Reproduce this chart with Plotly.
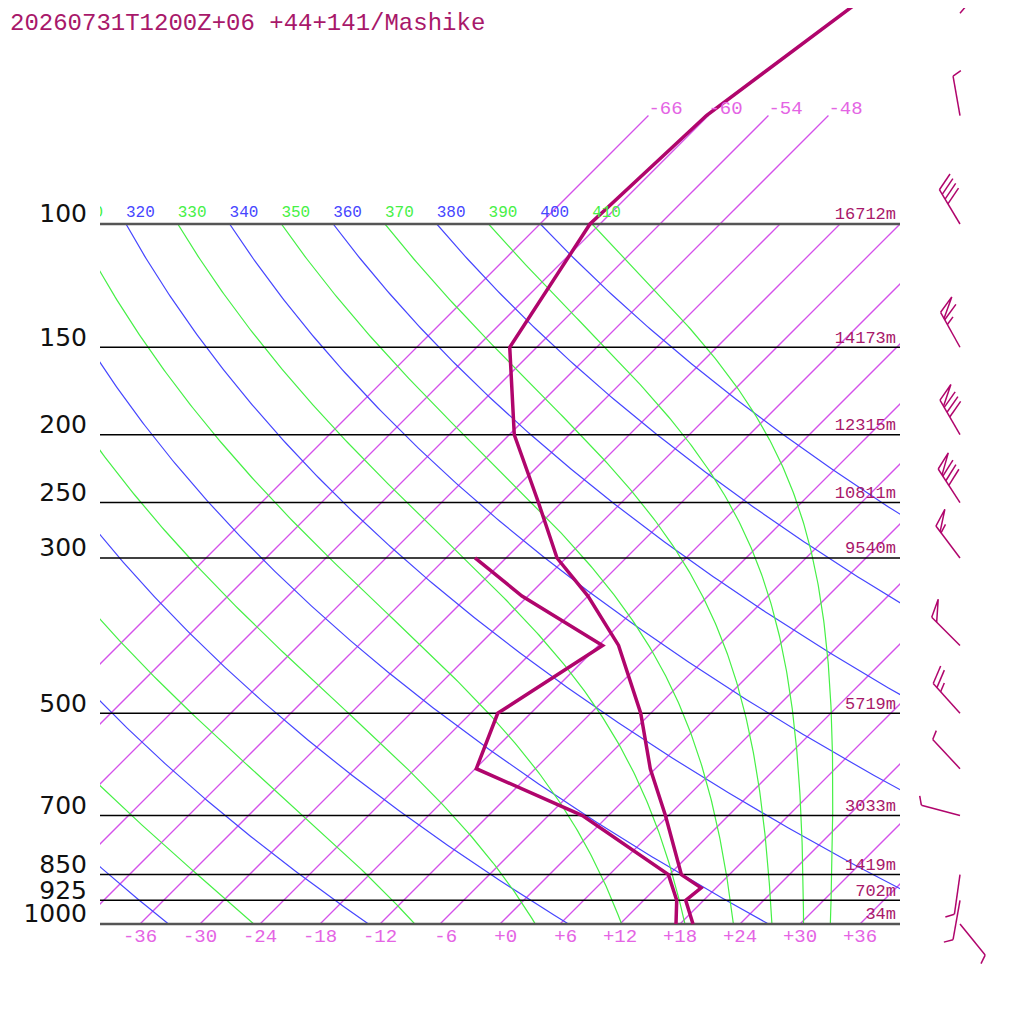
import numpy as np
import plotly.graph_objects as go

# Sounding (hPa, degC)
pres = [1000, 925, 888, 850, 700, 600, 500, 400, 340, 300, 250, 200, 150, 100, 70, 50, 30]
temp = [19.3, 16.2, 16.5, 13.2, 5.7, -0.5, -7.0, -16.0, -24.0, -30.9, -38.3, -47.5, -56.7, -61.0, -60.2, -56.7, -51.5]
dew_pres = [1000, 925, 850, 700, 600, 500, 400, 340, 300]
dewp = [17.6, 15.3, 11.9, -2.6, -17.9, -21.3, -17.6, -30.6, -39.1]

# Winds (direction deg, speed kt)
wind_pres = [1000, 925, 850, 700, 600, 500, 400, 300, 250, 200, 150, 100, 70, 50]
wind_dir = [141, 190, 188, 285, 317, 318, 315, 323, 327, 330, 331, 329, 350, 40]
wind_kt = [5, 5, 5, 5, 5, 25, 50, 55, 80, 80, 65, 40, 5, 10]

# Standard levels with geopotential heights
lev_pres = [100, 150, 200, 250, 300, 500, 700, 850, 925, 1000]
lev_hgt = ["16712m", "14173m", "12315m", "10811m", "9540m", "5719m", "3033m", "1419m", "702m", "34m"]

# Background lines
iso_temps = list(range(-66, 37, 6))
strat_temps = [-66, -60, -54, -48]
bottom_temps = list(range(-36, 37, 6))
theta_dry = list(range(240, 401, 20))
theta_moist = list(range(250, 411, 20))

title = "20260731T1200Z+06 +44+141/Mashike"

SKEW = 70.0
KAPPA = 0.2857
Rd, CP, LV, EPS = 287.04, 1005.7, 2.501e6, 0.622

PROFILE = "rgb(176,5,108)"
TXT = "rgb(168,24,106)"
ISO = "#D452EA"
ISO_TXT = "rgb(228,100,228)"
BLUE = "#4646FF"
GREEN = "#46F046"
MONO = "Liberation Mono"

# the page puts the figure 8px in from the top-left corner
W = 1016
inner = dict(xaxis="x", yaxis="y")
full = dict(xaxis="x2", yaxis="y2")
clip = dict(xaxis="x3", yaxis="y3")


def skew_x(t, p):
    return np.asarray(t, float) + SKEW * np.log10(1000.0 / np.asarray(p, float))


def joined(lines):
    xs, ys = [], []
    for x, y in lines:
        xs += [float(v) for v in x] + [None]
        ys += [float(v) for v in y] + [None]
    return xs, ys


def dtdlnp(T, p):
    es = 6.112 * np.exp(17.67 * (T - 273.15) / (T - 29.65))
    rs = EPS * es / (p - es)
    return (Rd * T + LV * rs) / (CP + LV * LV * rs * EPS / (Rd * T * T))


def moist_line(theta, pgrid):
    T = theta * (pgrid[0] / 1000.0) ** KAPPA
    out = [T]
    lp = np.log(pgrid)
    for i in range(len(pgrid) - 1):
        h = lp[i + 1] - lp[i]
        pm = np.exp(lp[i] + h / 2)
        k1 = dtdlnp(T, pgrid[i])
        k2 = dtdlnp(T + h / 2 * k1, pm)
        k3 = dtdlnp(T + h / 2 * k2, pm)
        k4 = dtdlnp(T + h * k3, pgrid[i + 1])
        T = T + h / 6 * (k1 + 2 * k2 + 2 * k3 + k4)
        out.append(T)
    return np.array(out) - 273.15


fig = go.Figure()
pgrid = np.logspace(2, 3, 241)

# isotherms
xs, ys = joined([(skew_x([t, t], [1000, 100]), [1000, 100]) for t in iso_temps])
fig.add_trace(go.Scatter(x=xs, y=ys, mode="lines", line=dict(color=ISO, width=1.3), **inner))
xs, ys = joined([(skew_x([t, t], [100, 70]), [100, 70]) for t in strat_temps])
fig.add_trace(go.Scatter(x=xs, y=ys, mode="lines", line=dict(color=ISO, width=1.3), **full))

# dry adiabats
xs, ys = joined([(skew_x(th * (pgrid / 1000.0) ** KAPPA - 273.15, pgrid), pgrid) for th in theta_dry])
fig.add_trace(go.Scatter(x=xs, y=ys, mode="lines", line=dict(color=BLUE, width=1.2), **inner))

# moist adiabats
xs, ys = joined([(skew_x(moist_line(th, pgrid), pgrid), pgrid) for th in theta_moist])
fig.add_trace(go.Scatter(x=xs, y=ys, mode="lines", line=dict(color=GREEN, width=1.2), **inner))

# pressure lines
mid = [p for p in lev_pres if p not in (100, 1000)]
xs, ys = joined([([-40, 40], [p, p]) for p in mid])
fig.add_trace(go.Scatter(x=xs, y=ys, mode="lines", line=dict(color="black", width=1.5), **full))
xs, ys = joined([([-40, 40], [p, p]) for p in (100, 1000)])
fig.add_trace(go.Scatter(x=xs, y=ys, mode="lines", line=dict(color="#555555", width=2.5), **full))

# profiles
fig.add_trace(go.Scatter(x=skew_x(temp, pres), y=pres, mode="lines",
                         line=dict(color=PROFILE, width=3.5), **full))
fig.add_trace(go.Scatter(x=skew_x(dewp, dew_pres), y=dew_pres, mode="lines",
                         line=dict(color=PROFILE, width=3.5), **full))


# wind barbs
def barb(p0, d, spd, staff=40.0, tick=19.0):
    r = np.radians(d)
    u = np.array([np.sin(r), np.cos(r)])
    n = np.array([np.cos(r), -np.sin(r)])
    a = np.radians(65)
    v = np.cos(a) * u + np.sin(a) * n
    segs = [[np.zeros(2), staff * u]]
    pos = staff
    left = spd
    while left >= 50:
        segs.append([pos * u, pos * u + tick * v, (pos - 7) * u])
        pos -= 8.5
        left -= 50
    while left >= 10:
        segs.append([pos * u, pos * u + tick * v])
        pos -= 5.5
        left -= 10
    if left >= 5:
        segs.append([pos * u, pos * u + tick / 2 * v])
    out = []
    for s in segs:
        s = np.array(s)
        out.append((46 + s[:, 0] / 10.0, p0 * 10 ** (-s[:, 1] / 700.0)))
    return out


lines = []
for p0, d, s in zip(wind_pres, wind_dir, wind_kt):
    lines += barb(p0, d, s)
xs, ys = joined(lines)
fig.add_trace(go.Scatter(x=xs, y=ys, mode="lines", line=dict(color=PROFILE, width=1.5), **full))

# pressure labels
fig.add_trace(go.Scatter(x=[-41.3] * len(lev_pres), y=[p * 10 ** (-8 / 700) for p in lev_pres],
                         mode="text", text=[str(p) for p in lev_pres], textposition="middle left",
                         textfont=dict(family="DejaVu Sans", size=25, color="#111111"),
                         cliponaxis=False, **full))

# height labels
fig.add_trace(go.Scatter(x=[39.6] * len(lev_pres), y=[p * 10 ** (-9 / 700) for p in lev_pres],
                         mode="text", text=lev_hgt, textposition="middle left",
                         textfont=dict(family=MONO, size=17, color=TXT),
                         cliponaxis=False, **full))

# temperature labels along the bottom
fig.add_trace(go.Scatter(x=bottom_temps, y=[1000 * 10 ** (13 / 700)] * len(bottom_temps),
                         mode="text", text=[f"{t:+d}".rjust(3, "\u00a0") for t in bottom_temps],
                         textposition="middle center",
                         textfont=dict(family=MONO, size=19, color=ISO_TXT),
                         cliponaxis=False, **full))
fig.add_trace(go.Scatter(x=skew_x(strat_temps, [70] * 4), y=[70 * 10 ** (-6 / 700)] * 4,
                         mode="text", text=[f"{t:+d}" for t in strat_temps], textposition="middle right",
                         textfont=dict(family=MONO, size=19, color=ISO_TXT),
                         cliponaxis=False, **full))

# adiabat labels at 100 hPa (clipped to the diagram width)
for ths, col in ((theta_dry, BLUE), (theta_moist, GREEN)):
    ths = [t for t in ths if t >= 300]
    t100 = [t * 0.1 ** KAPPA - 273.15 for t in ths]
    fig.add_trace(go.Scatter(x=skew_x(t100, [100] * len(ths)), y=[100 * 10 ** (-11.5 / 700)] * len(ths),
                             mode="text", text=[str(t) for t in ths], textposition="middle right",
                             textfont=dict(family=MONO, size=16, color=col),
                             cliponaxis=True, **clip))

fig.update_traces(hoverinfo="skip", showlegend=False)

fig.add_annotation(x=0, y=1, xref="paper", yref="paper", xanchor="left", yanchor="top",
                   text=title, showarrow=False, font=dict(family=MONO, size=24, color=TXT))

# pixel layout: 10 px per degree, 700 px per pressure decade, 0C at 1000 hPa on page x=500
x_lo, x_hi = (8 - 500) / 10, (8 + W - 500) / 10
y_lo, y_hi = 3 + (8 + W - 924) / 700, 3 - (924 - 8) / 700
fig.update_layout(
    width=W, height=W, margin=dict(l=0, r=0, t=0, b=0),
    paper_bgcolor="white", plot_bgcolor="rgba(0,0,0,0)", showlegend=False,
    xaxis=dict(domain=[92 / W, 892 / W], range=[-40, 40], visible=False, anchor="y"),
    yaxis=dict(domain=[(W - 916) / W, (W - 216) / W], type="log", range=[3, 2], visible=False, anchor="x"),
    xaxis2=dict(domain=[0, 1], range=[x_lo, x_hi], visible=False, anchor="y2"),
    yaxis2=dict(domain=[0, 1], type="log", range=[y_lo, y_hi], visible=False, anchor="x2"),
    xaxis3=dict(domain=[92 / W, 892 / W], range=[-40, 40], visible=False, anchor="y3"),
    yaxis3=dict(domain=[0, 1], type="log", range=[y_lo, y_hi], visible=False, anchor="x3"),
)

fig.write_html("out.html")
